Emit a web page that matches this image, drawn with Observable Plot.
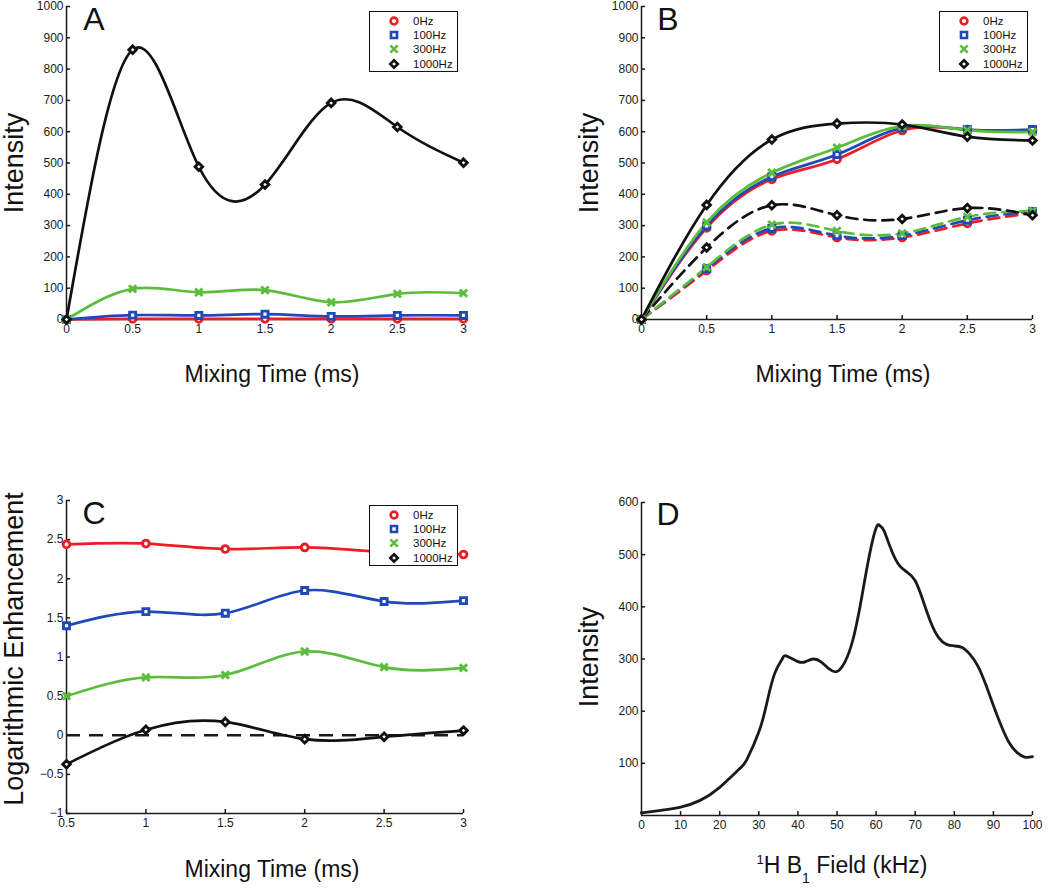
<!DOCTYPE html>
<html><head><meta charset="utf-8">
<script src="https://cdn.jsdelivr.net/npm/d3@7"></script>
<script src="https://cdn.jsdelivr.net/npm/@observablehq/plot@0.6"></script>
<style>
body{margin:0;background:#fff;font-family:"Liberation Sans",Arial,sans-serif;}
#fig{position:relative;width:1050px;height:888px;overflow:hidden;background:#fff;}
.panel{position:absolute;}
.lbl{position:absolute;transform:translate(-50%,-50%);white-space:nowrap;color:#111;line-height:1;}
.legend{position:absolute;background:#fff;border:1.5px solid #111;box-sizing:border-box;font-size:11.5px;color:#111;}
.legend .row{position:absolute;left:0;height:14px;line-height:14px;}
.legend svg{position:absolute;}
</style>
</head><body>
<div id="fig"></div>
<script>
// ---------- data ----------
const seriesNames = ["0Hz", "100Hz", "300Hz", "1000Hz"];
const seriesColors = ["#ee1c24", "#1f48b8", "#5cbd3c", "#111111"];
const seriesSymbols = ["circle", "square", "times", "diamond2"];

const mixTime = [0, 0.5, 1, 1.5, 2, 2.5, 3];
// Panel A
const A_0Hz = [0, 2, 2, 2, 2, 2, 2];
const A_100Hz = [0, 14, 13, 17, 10, 13, 13];
const A_300Hz = [0, 98, 87, 94, 55, 82, 84];
const A_1000Hz = [0, 862, 488, 431, 692, 615, 501];
// Panel B (solid)
const B_solid_0Hz = [0, 293, 448, 512, 604, 607, 605];
const B_solid_100Hz = [0, 299, 456, 527, 612, 607, 607];
const B_solid_300Hz = [0, 310, 469, 549, 618, 605, 599];
const B_solid_1000Hz = [0, 366, 575, 626, 623, 584, 572];
// Panel B (dashed)
const B_dash_0Hz = [0, 156, 283, 262, 262, 307, 340];
const B_dash_100Hz = [0, 163, 291, 268, 268, 317, 345];
const B_dash_300Hz = [0, 167, 303, 283, 275, 328, 347];
const B_dash_1000Hz = [0, 230, 365, 333, 321, 356, 333];
// Panel C
const mixTimeC = [0.5, 1, 1.5, 2, 2.5, 3];
const C_0Hz = [2.44, 2.45, 2.38, 2.40, 2.34, 2.31];
const C_100Hz = [1.40, 1.58, 1.56, 1.85, 1.71, 1.72];
const C_300Hz = [0.50, 0.74, 0.77, 1.07, 0.87, 0.86];
const C_1000Hz = [-0.37, 0.07, 0.17, -0.05, -0.02, 0.06];
const C_reference = [0];
// Panel D
const D_field = [0,5,10,15,20,25,27,30,32,34,36,37,40,42,44,46,48,50,52,54,56,58,60,61,62,64,66,68,70,72,74,76,78,80,82,84,86,88,90,92,94,96,98,100];
const D_intensity = [5,10,16,29,54,89,108,160,214,271,300,306,295,295,300,294,281,276,294,335,405,488,551,555,546,507,479,466,450,412,370,341,328,325,322,309,287,252,211,172,140,121,112,113];

// ticks & domains
const ticksTime = [0, 0.5, 1, 1.5, 2, 2.5, 3];
const ticksTimeC = [0.5, 1, 1.5, 2, 2.5, 3];
const ticksIntensity = d3.range(0, 1001, 100);
const ticksLogEnh = [-1, -0.5, 0, 0.5, 1, 1.5, 2, 2.5, 3];
const ticksField = d3.range(0, 101, 10);
const ticksIntensityD = [100, 200, 300, 400, 500, 600];
const domTime = [0, 3], domTimeC = [0.5, 3], domIntensity = [0, 1000], domLogEnh = [-1, 3];
const domField = [0, 100], domIntensityD = [0, 600];

// ---------- helpers ----------
function rows(xs, arrays) {
  const out = [];
  arrays.forEach((arr, i) => arr.forEach((v, j) => out.push({t: xs[j], v, s: seriesNames[i]})));
  return out;
}
const ink = "#1a1a1a";
const fmt = d => (d < 0 ? "\u2212" : "") + String(Math.abs(d));
function axes(xTicks, yTicks, xDom, yDom) {
  return [
    Plot.ruleX([xDom[0]], {stroke: ink, strokeWidth: 1.5}),
    Plot.ruleY([yDom[0]], {stroke: ink, strokeWidth: 1.5}),
    Plot.axisX({ticks: xTicks, tickFormat: fmt, tickSize: -4, tickPadding: 9, fontSize: 12, label: null, stroke: ink, strokeWidth: 1.5, fill: ink}),
    Plot.axisY({ticks: yTicks, tickFormat: fmt, tickSize: -4, tickPadding: 7, fontSize: 12, label: null, stroke: ink, strokeWidth: 1.5, fill: ink})
  ];
}
const colorScale = {domain: seriesNames, range: seriesColors};
const symbolScale = {domain: seriesNames, range: seriesSymbols};
function seriesMarks(data, dash) {
  return [
    Plot.line(data, {x: "t", y: "v", z: "s", stroke: "s", curve: "natural", strokeWidth: 2.7, strokeDasharray: dash}),
    Plot.dot(data, {x: "t", y: "v", symbol: "s", stroke: "s", fill: "white", r: 3.4, strokeWidth: 2.9})
  ];
}
const fig = document.getElementById("fig");
function place(node, left, top) {
  const d = document.createElement("div");
  d.className = "panel"; d.style.left = left + "px"; d.style.top = top + "px";
  d.appendChild(node); fig.appendChild(d);
}
function label(html, x, y, size, rotate) {
  const d = document.createElement("div");
  d.className = "lbl"; d.innerHTML = html;
  d.style.left = x + "px"; d.style.top = y + "px"; d.style.fontSize = size + "px";
  if (rotate) d.style.transform = "translate(-50%,-50%) rotate(-90deg)";
  fig.appendChild(d);
}
function legend(left, top) {
  const d = document.createElement("div");
  d.className = "legend";
  d.style.left = left + "px"; d.style.top = top + "px"; d.style.width = "89px"; d.style.height = "61px";
  seriesNames.forEach((name, i) => {
    const y = 9 + i * 14.2;
    const svg = d3.create("svg").attr("width", 16).attr("height", 16)
      .style("left", "16px").style("top", (y - 8) + "px");
    const sym = {circle: d3.symbolCircle, square: d3.symbolSquare, times: d3.symbolTimes, diamond2: d3.symbolDiamond2}[seriesSymbols[i]];
    svg.append("path").attr("transform", "translate(8,8)")
      .attr("d", d3.symbol(sym, 3.4 * 3.4 * Math.PI)())
      .attr("fill", "white").attr("stroke", seriesColors[i]).attr("stroke-width", 2.6);
    d.appendChild(svg.node());
    const r = document.createElement("div");
    r.className = "row"; r.style.left = "43px"; r.style.top = (y - 7) + "px"; r.textContent = name;
    d.appendChild(r);
  });
  fig.appendChild(d);
}
const common = {style: {fontFamily: "Liberation Sans, Arial, sans-serif", background: "transparent", color: ink, overflow: "visible"}};

// ---------- Panel A ----------
const dataA = rows(mixTime, [A_0Hz, A_100Hz, A_300Hz, A_1000Hz]);
place(Plot.plot({
  ...common, width: 520, height: 440, marginLeft: 66, marginRight: 57, marginTop: 6, marginBottom: 121,
  x: {domain: domTime}, y: {domain: domIntensity}, color: colorScale, symbol: symbolScale,
  marks: [...axes(ticksTime, ticksIntensity, domTime, domIntensity), ...seriesMarks(dataA, null)]
}), 0, 0);

// ---------- Panel B ----------
const dataBs = rows(mixTime, [B_solid_0Hz, B_solid_100Hz, B_solid_300Hz, B_solid_1000Hz]);
const dataBd = rows(mixTime, [B_dash_0Hz, B_dash_100Hz, B_dash_300Hz, B_dash_1000Hz]);
place(Plot.plot({
  ...common, width: 530, height: 440, marginLeft: 121, marginRight: 18, marginTop: 6, marginBottom: 121,
  x: {domain: domTime}, y: {domain: domIntensity}, color: colorScale, symbol: symbolScale,
  marks: [...axes(ticksTime, ticksIntensity, domTime, domIntensity), ...seriesMarks(dataBd, "11,7"), ...seriesMarks(dataBs, null)]
}), 520, 0);

// ---------- Panel C ----------
const dataC = rows(mixTimeC, [C_0Hz, C_100Hz, C_300Hz, C_1000Hz]);
place(Plot.plot({
  ...common, width: 520, height: 448, marginLeft: 66, marginRight: 57, marginTop: 60, marginBottom: 75,
  x: {domain: domTimeC}, y: {domain: domLogEnh}, color: colorScale, symbol: symbolScale,
  marks: [...axes(ticksTimeC, ticksLogEnh, domTimeC, domLogEnh),
    Plot.ruleY(C_reference, {stroke: ink, strokeWidth: 2.6, strokeDasharray: "14,9"}),
    ...seriesMarks(dataC, null)]
}), 0, 440);

// ---------- Panel D ----------
const dataD = D_field.map((f, i) => ({f, v: D_intensity[i]}));
place(Plot.plot({
  ...common, width: 530, height: 448, marginLeft: 121, marginRight: 18, marginTop: 62, marginBottom: 73,
  x: {domain: domField}, y: {domain: domIntensityD},
  marks: [...axes(ticksField, ticksIntensityD, domField, domIntensityD),
    Plot.line(dataD, {x: "f", y: "v", curve: "natural", stroke: ink, strokeWidth: 2.8})]
}), 520, 440);

// ---------- text ----------
label("A", 94, 19, 32); label("B", 668, 19, 32); label("C", 94, 513, 32); label("D", 668, 514, 32);
label("Intensity", 14, 163, 27, true);
label("Intensity", 589, 163, 27, true);
label("Logarithmic Enhancement", 14, 649, 27, true);
label("Intensity", 589, 657, 27, true);
label("Mixing Time (ms)", 272, 374, 23);
label("Mixing Time (ms)", 843, 374, 23);
label("Mixing Time (ms)", 272, 869, 23);
label("<sup style='font-size:13px;vertical-align:9px'>1</sup>H B<sub style='font-size:14px;vertical-align:-10px'>1</sub> Field (kHz)", 842, 869, 23);
legend(369, 11); legend(939, 11); legend(369, 505);
</script>
</body></html>
